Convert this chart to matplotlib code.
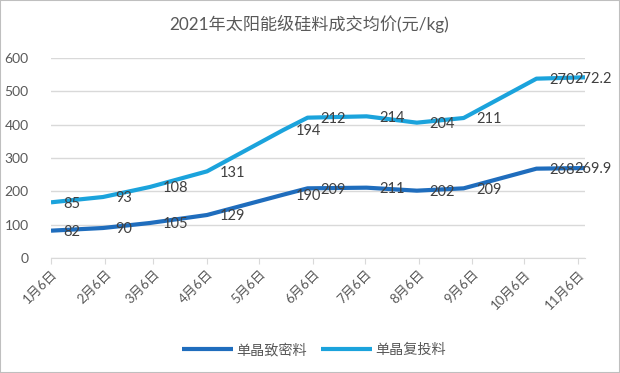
import numpy as np
import pandas as pd
import matplotlib
matplotlib.use("Agg")
import matplotlib.pyplot as plt
from matplotlib.patches import Rectangle

plt.rcParams['font.family'] = ['Lato', 'Noto Sans CJK SC', 'DejaVu Sans']

## data
##------------------------------------------------------------------------
title = "2021年太阳能级硅料成交均价(元/kg)"
dates = ['2021-01-06', '2021-02-05', '2021-03-04', '2021-04-06', '2021-05-20',
         '2021-06-03', '2021-07-07', '2021-08-05', '2021-09-01', '2021-10-13',
         '2021-11-10']
dense = [82, 90, 105, 129, 190, 209, 211, 202, 209, 268, 269.9]     # 单晶致密料
recast = [85, 93, 108, 131, 194, 212, 214, 204, 211, 270, 272.2]    # 单晶复投料
series_names = ['单晶致密料', '单晶复投料']
tick_dates = ['2021-%02d-06' % m for m in range(1, 12)]
tick_labels = ['%d月6日' % m for m in range(1, 12)]
yticks = [0, 100, 200, 300, 400, 500, 600]

## plot
##------------------------------------------------------------------------
W, H = 620, 373
fig = plt.figure(figsize=(W / 100, H / 100), dpi=100)
ax = fig.add_axes([51 / W, 115 / H, 534 / W, 200 / H])

x = pd.to_datetime(dates)
lower = np.array(dense)
upper = lower + np.array(recast)   # stacked line chart

c_dark = '#1f6dbd'
c_light = '#1ba3dc'
ax.plot(x, lower, color=c_dark, lw=3.0, solid_capstyle='butt', label=series_names[0], zorder=3)
ax.plot(x, upper, color=c_light, lw=3.0, solid_capstyle='butt', label=series_names[1], zorder=3)

n = len(dates)
for vals, ys in ((dense, lower), (recast, upper)):
  for i in range(n):
    dx = 9 if i < n - 1 else -8
    ax.annotate(f"{vals[i]:g}", (x[i], ys[i]), xytext=(dx, -1),
                textcoords='offset points', ha='left', va='center',
                fontsize=10.5, color='#404040', zorder=4, annotation_clip=False)

ax.set_xlim(x[0], x[-1])
ax.set_ylim(0, 600)
ax.set_yticks(yticks)
ax.set_xticks(pd.to_datetime(tick_dates))
ax.set_xticklabels(tick_labels, rotation=45, ha='right', va='top',
                   rotation_mode='anchor')

ax.grid(axis='y', color='#d9d9d9', lw=1)
ax.set_axisbelow(True)
for s in ['top', 'right', 'left']:
  ax.spines[s].set_visible(False)
ax.spines['bottom'].set_color('#d9d9d9')
ax.tick_params(axis='y', length=0, pad=16, labelsize=10, labelcolor='#595959')
ax.tick_params(axis='x', length=4, color='#d9d9d9', pad=3, labelsize=9.5,
               labelcolor='#595959')

fig.text(309 / W, 1 - 24 / H, title, ha='center', va='center', fontsize=12.3,
         color='#595959')

fig.legend(loc='center', bbox_to_anchor=(314 / W, 1 - 349 / H), ncol=2,
           frameon=False, fontsize=10.2, handlelength=3.6, handletextpad=0.2,
           columnspacing=1.0, labelcolor='#595959')

fig.patches.append(Rectangle((0, 0), 1, 1, transform=fig.transFigure,
                             fill=False, edgecolor='#bfbfbf', lw=1.5))

fig.savefig('out.png', dpi=100)
